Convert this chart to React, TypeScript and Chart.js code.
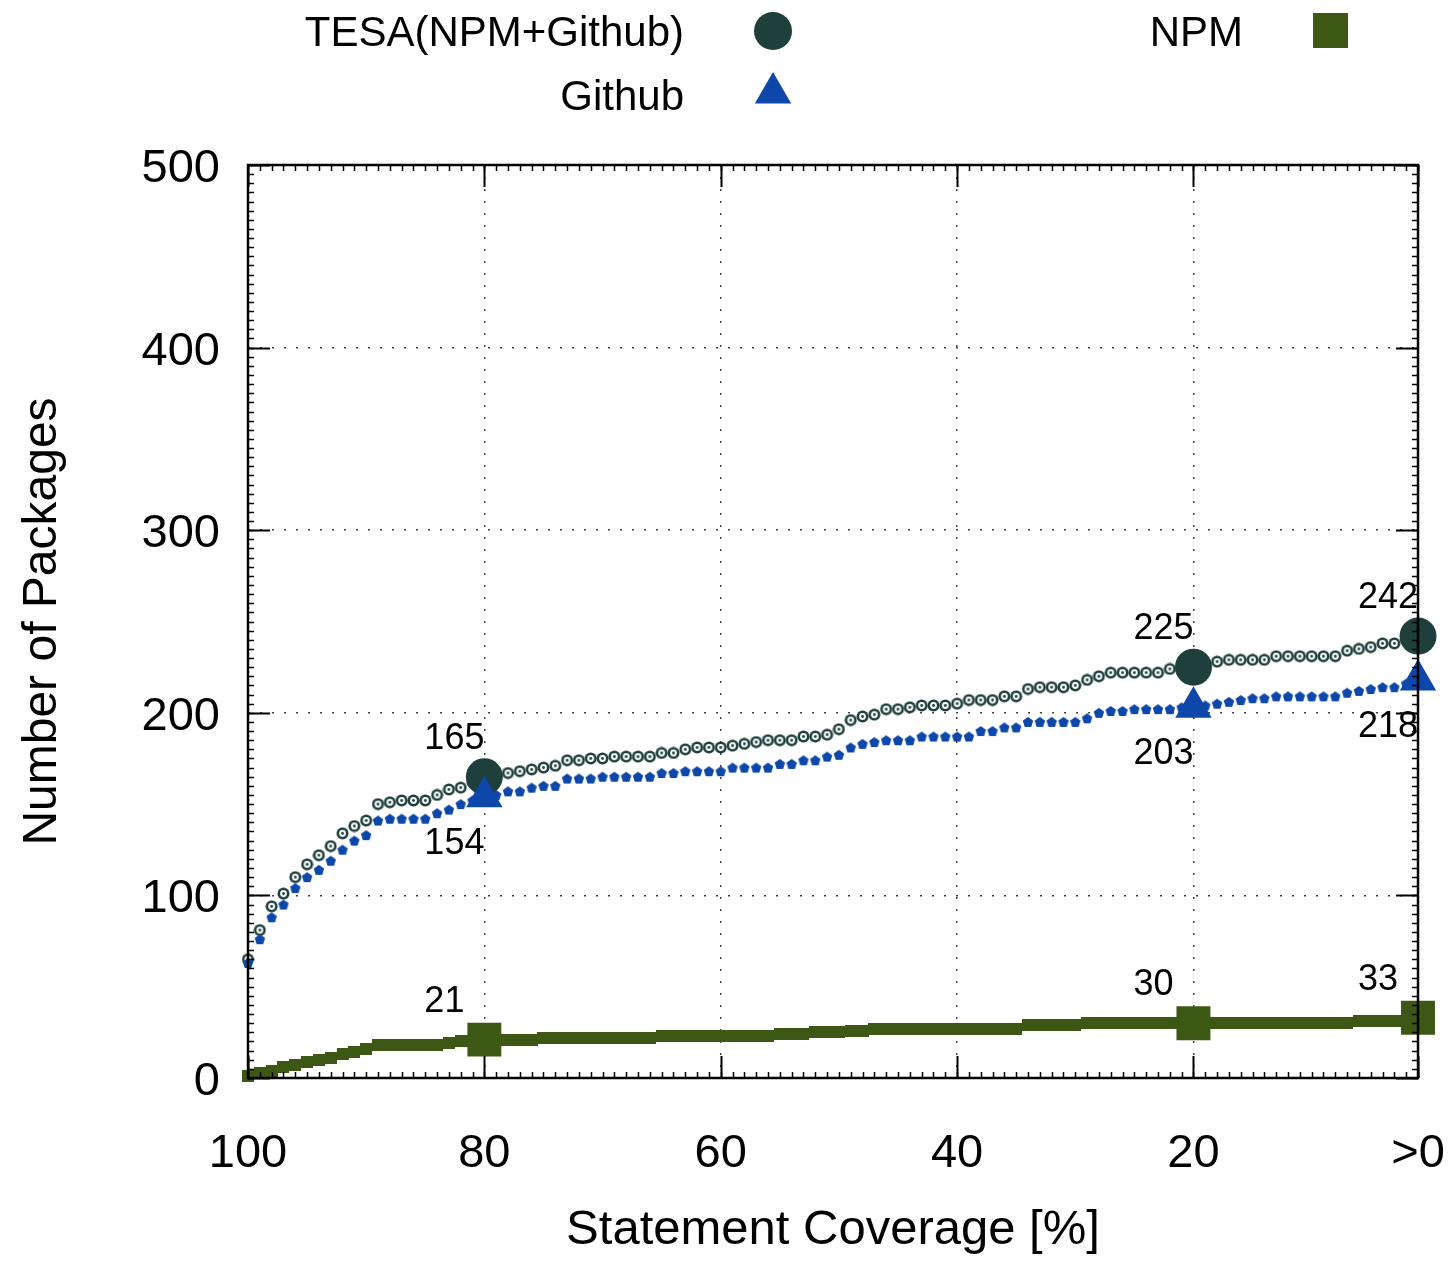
import React, { useEffect, useRef } from 'react';
import { Chart, registerables } from 'chart.js';

Chart.register(...registerables);

// ---------- data ----------
const coverage = [
  100, 99, 98, 97, 96, 95, 94, 93, 92, 91,
  90, 89, 88, 87, 86, 85, 84, 83, 82, 81,
  80, 79, 78, 77, 76, 75, 74, 73, 72, 71,
  70, 69, 68, 67, 66, 65, 64, 63, 62, 61,
  60, 59, 58, 57, 56, 55, 54, 53, 52, 51,
  50, 49, 48, 47, 46, 45, 44, 43, 42, 41,
  40, 39, 38, 37, 36, 35, 34, 33, 32, 31,
  30, 29, 28, 27, 26, 25, 24, 23, 22, 21,
  20, 19, 18, 17, 16, 15, 14, 13, 12, 11,
  10, 9, 8, 7, 6, 5, 4, 3, 2, 1,
];

const tesa = [
  65, 81, 94, 101, 110, 117, 122, 127, 134, 138,
  141, 150, 151, 152, 152, 152, 155, 158, 159, 162,
  165, 166, 167, 168, 169, 170, 171, 174, 174, 175,
  175, 176, 176, 176, 176, 178, 178, 180, 181, 181,
  181, 182, 183, 184, 185, 185, 185, 187, 187, 188,
  191, 196, 198, 199, 202, 202, 203, 204, 204, 204,
  205, 207, 207, 207, 209, 209, 213, 214, 214, 214,
  215, 218, 220, 222, 222, 222, 222, 222, 224, 224,
  225, 227, 228, 229, 229, 229, 229, 231, 231, 231,
  231, 231, 231, 234, 235, 236, 238, 238, 240, 242,
];

const github = [
  63, 76, 88, 95, 104, 110, 114, 119, 125, 130,
  133, 141, 142, 142, 142, 142, 145, 147, 150, 152,
  154, 155, 157, 157, 159, 160, 160, 164, 164, 164,
  165, 165, 165, 165, 165, 167, 167, 168, 168, 168,
  168, 170, 170, 170, 170, 172, 172, 174, 174, 176,
  177, 181, 183, 184, 185, 185, 185, 187, 187, 187,
  187, 187, 190, 190, 192, 192, 195, 195, 195, 195,
  195, 197, 200, 201, 201, 202, 202, 202, 202, 203,
  203, 204, 205, 206, 207, 208, 208, 209, 209, 209,
  209, 209, 209, 211, 212, 213, 214, 214, 216, 218,
];

const npm = [
  1, 3, 4, 6, 7, 9, 10, 11, 13, 14,
  16, 18, 18, 18, 18, 18, 18, 19, 20, 20,
  21, 21, 21, 21, 21, 22, 22, 22, 22, 22,
  22, 22, 22, 22, 22, 23, 23, 23, 23, 23,
  23, 23, 23, 23, 23, 24, 24, 24, 25, 25,
  25, 26, 26, 27, 27, 27, 27, 27, 27, 27,
  27, 27, 27, 27, 27, 27, 29, 29, 29, 29,
  29, 30, 30, 30, 30, 30, 30, 30, 30, 30,
  30, 30, 30, 30, 30, 30, 30, 30, 30, 30,
  30, 30, 30, 30, 31, 31, 31, 31, 31, 33,
];

const keyCoverage = [80, 20, 1];
const xTickValues = [100, 80, 60, 40, 20, 1];
const xTickLabels = ['100', '80', '60', '40', '20', '>0'];
const yTickValues = [0, 100, 200, 300, 400, 500];
const seriesNames = ['TESA(NPM+Github)', 'Github', 'NPM'];
const xTitle = 'Statement Coverage [%]';
const yTitle = 'Number of Packages';

// ---------- style ----------
const FONT = '"Liberation Sans", Arial, Helvetica, sans-serif';
const C_TESA = '#1e3f3c';
const C_GH = '#0c47a9';
const C_NPM = '#3d5814';
const W = 1451;
const H = 1285;
const AREA_L = 248;
const AREA_R = 1418;
const AREA_T = 165;
const AREA_B = 1078;

function makeTesaSmall(): HTMLCanvasElement {
  const c = document.createElement('canvas');
  c.width = 13; c.height = 13;
  const g = c.getContext('2d')!;
  g.fillStyle = C_TESA; g.beginPath(); g.arc(6.5, 6.5, 6, 0, Math.PI * 2); g.fill();
  g.fillStyle = '#ffffff'; g.beginPath(); g.arc(6.5, 6.5, 3.4, 0, Math.PI * 2); g.fill();
  g.fillStyle = C_TESA; g.beginPath(); g.arc(6.5, 6.5, 1.4, 0, Math.PI * 2); g.fill();
  return c;
}
function makePentagon(): HTMLCanvasElement {
  const c = document.createElement('canvas');
  c.width = 12; c.height = 12;
  const g = c.getContext('2d')!;
  g.fillStyle = C_GH; g.beginPath();
  for (let k = 0; k < 5; k++) {
    const a = -Math.PI / 2 + (k * 2 * Math.PI) / 5;
    const px = 6 + Math.cos(a) * 5.5;
    const py = 6.5 + Math.sin(a) * 5.5;
    if (k === 0) g.moveTo(px, py); else g.lineTo(px, py);
  }
  g.closePath(); g.fill();
  return c;
}
function makeSquare(): HTMLCanvasElement {
  const c = document.createElement('canvas');
  c.width = 12; c.height = 12;
  const g = c.getContext('2d')!;
  g.fillStyle = C_NPM; g.fillRect(0, 0, 12, 12);
  return c;
}

const toPts = (vals: number[]) => coverage.map((c, i) => ({ x: c, y: vals[i] }));
const keyPts = (vals: number[]) => keyCoverage.map((c) => ({ x: c, y: vals[coverage.indexOf(c)] }));

const labelsPlugin = {
  id: 'valueLabels',
  afterDatasetsDraw(chart: any) {
    const { ctx } = chart;
    const xs = chart.scales.x, ys = chart.scales.y;
    ctx.save();
    ctx.font = `36px ${FONT}`;
    ctx.fillStyle = '#000';
    ctx.textAlign = 'left';
    ctx.textBaseline = 'alphabetic';
    const groups = [
      { vals: tesa, dy: -41 },
      { vals: github, dy: 44 },
      { vals: npm, dy: -41 },
    ];
    for (const g of groups) {
      for (const c of keyCoverage) {
        const v = g.vals[coverage.indexOf(c)];
        const px = xs.getPixelForValue(c) - 60;
        const py = ys.getPixelForValue(v) + g.dy + 13;
        ctx.fillText(String(v), px, py);
      }
    }
    ctx.restore();
  },
};

const framePlugin = {
  id: 'frame',
  afterDatasetsDraw(chart: any) {
    const { ctx, chartArea: a } = chart;
    const xs = chart.scales.x, ys = chart.scales.y;
    ctx.save();
    ctx.strokeStyle = '#000';
    ctx.lineWidth = 1.5;
    ctx.beginPath();
    // minor x ticks
    for (let v = 1; v <= 100; v++) {
      const px = Math.round(xs.getPixelForValue(v)) + 0.5;
      ctx.moveTo(px, a.bottom); ctx.lineTo(px, a.bottom - 6);
      ctx.moveTo(px, a.top); ctx.lineTo(px, a.top + 6);
    }
    // minor y ticks
    for (let v = 0; v <= 500; v += 5) {
      const py = Math.round(ys.getPixelForValue(v)) + 0.5;
      ctx.moveTo(a.left, py); ctx.lineTo(a.left + 6, py);
      ctx.moveTo(a.right, py); ctx.lineTo(a.right - 6, py);
    }
    ctx.stroke();
    ctx.lineWidth = 2;
    ctx.beginPath();
    for (const v of xTickValues) {
      const px = Math.round(xs.getPixelForValue(v)) + 0.5;
      ctx.moveTo(px, a.bottom); ctx.lineTo(px, a.bottom - 22);
      ctx.moveTo(px, a.top); ctx.lineTo(px, a.top + 22);
    }
    for (const v of yTickValues) {
      const py = Math.round(ys.getPixelForValue(v)) + 0.5;
      ctx.moveTo(a.left, py); ctx.lineTo(a.left + 22, py);
      ctx.moveTo(a.right, py); ctx.lineTo(a.right - 22, py);
    }
    ctx.stroke();
    ctx.lineWidth = 2.5;
    ctx.strokeRect(a.left, a.top, a.right - a.left, a.bottom - a.top);
    ctx.restore();
  },
};

const legendPlugin = {
  id: 'customLegend',
  afterDraw(chart: any) {
    const { ctx } = chart;
    ctx.save();
    ctx.font = `42px ${FONT}`;
    ctx.fillStyle = '#000';
    ctx.textAlign = 'right';
    ctx.textBaseline = 'alphabetic';
    ctx.fillText(seriesNames[0], 684, 46);
    ctx.fillText(seriesNames[1], 684, 110);
    ctx.fillText(seriesNames[2], 1243, 46);
    // TESA circle
    ctx.fillStyle = C_TESA;
    ctx.beginPath(); ctx.arc(773, 31, 19, 0, Math.PI * 2); ctx.fill();
    // Github triangle
    ctx.fillStyle = C_GH;
    const tx = 773, ty = 93, r = 21;
    ctx.beginPath();
    for (let k = 0; k < 3; k++) {
      const ang = -Math.PI / 2 + (k * 2 * Math.PI) / 3;
      const px = tx + Math.cos(ang) * r;
      const py = ty + Math.sin(ang) * r;
      if (k === 0) ctx.moveTo(px, py); else ctx.lineTo(px, py);
    }
    ctx.closePath(); ctx.fill();
    // NPM square
    ctx.fillStyle = C_NPM;
    ctx.fillRect(1313, 13, 35, 35);
    ctx.restore();
  },
};

export default function App() {
  const ref = useRef<HTMLCanvasElement | null>(null);

  useEffect(() => {
    if (!ref.current) return;
    const tesaImg = makeTesaSmall();
    const penta = makePentagon();
    const sq = makeSquare();

    const common = { showLine: false, clip: false as any, borderWidth: 0 };

    const chart = new Chart(ref.current, {
      type: 'line',
      data: {
        datasets: [
          {
            ...common, label: seriesNames[1] + ' key', data: keyPts(github), order: 0,
            pointStyle: 'triangle', pointRadius: 21, backgroundColor: C_GH, borderColor: C_GH,
            pointBorderWidth: 0,
          },
          {
            ...common, label: seriesNames[0] + ' key', data: keyPts(tesa), order: 1,
            pointStyle: 'circle', pointRadius: 18.5, backgroundColor: C_TESA, borderColor: C_TESA,
            pointBorderWidth: 0,
          },
          {
            ...common, label: seriesNames[1], data: toPts(github), order: 2,
            pointStyle: penta as any, pointRadius: 5, backgroundColor: C_GH, borderColor: C_GH,
          },
          {
            ...common, label: seriesNames[0], data: toPts(tesa), order: 3,
            pointStyle: tesaImg as any, pointRadius: 5, backgroundColor: C_TESA, borderColor: C_TESA,
          },
          {
            ...common, label: seriesNames[2] + ' key', data: keyPts(npm), order: 4,
            pointStyle: 'rect', pointRadius: 24, backgroundColor: C_NPM, borderColor: C_NPM,
            pointBorderWidth: 0,
          },
          {
            ...common, label: seriesNames[2], data: toPts(npm), order: 5,
            pointStyle: sq as any, pointRadius: 6, backgroundColor: C_NPM, borderColor: C_NPM,
          },
        ],
      },
      options: {
        responsive: false,
        animation: false,
        devicePixelRatio: 1,
        events: [],
        layout: { padding: { top: AREA_T, right: W - AREA_R, bottom: 0, left: 0 } },
        plugins: {
          legend: { display: false },
          tooltip: { enabled: false },
        },
        scales: {
          x: {
            type: 'linear',
            reverse: true,
            min: 1,
            max: 100,
            afterBuildTicks: (s: any) => { s.ticks = xTickValues.map((v) => ({ value: v })); },
            afterFit: (s: any) => {
              s.height = H - AREA_B;
              s.paddingLeft = 0;
              s.paddingRight = 0;
            },
            ticks: {
              autoSkip: false,
              maxRotation: 0,
              padding: 48,
              color: '#000',
              font: { family: FONT, size: 47 },
              callback: (_v: any, i: number) => xTickLabels[i],
            },
            grid: { color: '#444', lineWidth: 1.5, drawTicks: false },
            border: { display: false, dash: [2, 10] },
            title: {
              display: true, text: xTitle, color: '#000',
              font: { family: FONT, size: 49 },
              padding: { top: 0, bottom: 25 },
            },
          },
          y: {
            type: 'linear',
            min: 0,
            max: 500,
            afterBuildTicks: (s: any) => { s.ticks = yTickValues.map((v) => ({ value: v })); },
            afterFit: (s: any) => {
              s.width = AREA_L;
              s.paddingTop = 0;
              s.paddingBottom = 0;
            },
            ticks: {
              padding: 28,
              labelOffset: 4,
              color: '#000',
              font: { family: FONT, size: 47 },
            },
            grid: { color: '#444', lineWidth: 1.5, drawTicks: false },
            border: { display: false, dash: [2, 10] },
            title: {
              display: true, text: yTitle, color: '#000',
              font: { family: FONT, size: 48 },
              padding: { top: 14, bottom: 0 },
            },
          },
        },
      },
      plugins: [labelsPlugin, framePlugin, legendPlugin],
    } as any);

    return () => chart.destroy();
  }, []);

  return (
    <div style={{ position: 'absolute', left: 0, top: 0, width: W, height: H, background: '#fff' }}>
      <canvas ref={ref} width={W} height={H} style={{ display: 'block', width: W, height: H }} />
    </div>
  );
}
